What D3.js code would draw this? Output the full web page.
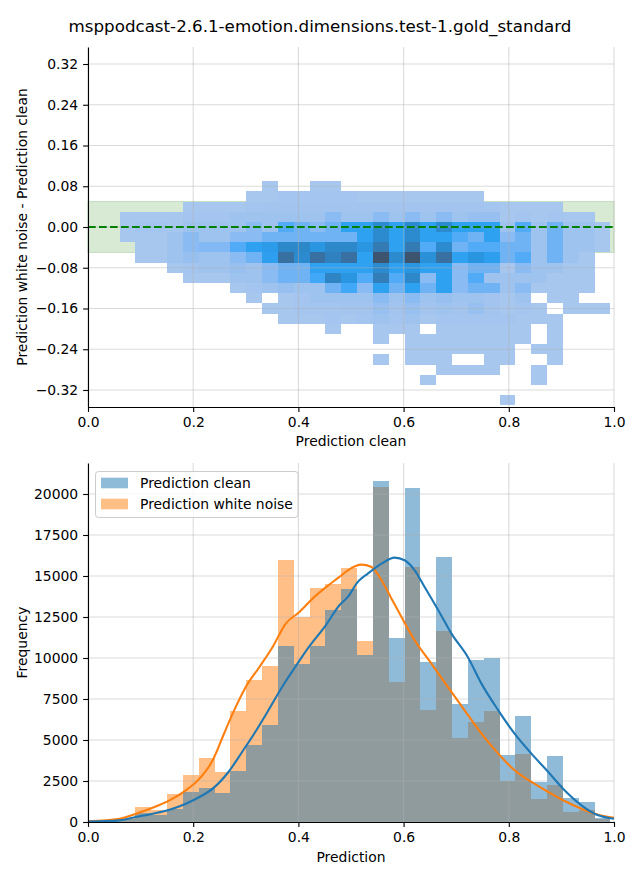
<!DOCTYPE html>
<html><head><meta charset="utf-8">
<script src="https://cdn.jsdelivr.net/npm/d3@7"></script>
<style>body{margin:0;background:#fff} text{font-family:"DejaVu Sans",sans-serif;fill:#000}</style>
</head><body><svg id="c" width="640" height="880"></svg>
<script>
// ---------------- DATA ----------------
const title = "msppodcast-2.6.1-emotion.dimensions.test-1.gold_standard";
const seriesNames = ["Prediction clean", "Prediction white noise"];
const seriesColors = ["#1f77b4", "#ff7f0e"];
const xTicks = [0, 0.2, 0.4, 0.6, 0.8, 1.0];
const topYTicks = [-0.32, -0.24, -0.16, -0.08, 0, 0.08, 0.16, 0.24, 0.32];
const bottomYTicks = [0, 2500, 5000, 7500, 10000, 12500, 15000, 17500, 20000];

// histogram bin edges (shared by both plots on x)
const binEdges = [0, 0.0301, 0.0602, 0.0903, 0.1204, 0.1505, 0.1806, 0.2107, 0.2408, 0.2709,
  0.301, 0.3311, 0.3612, 0.3913, 0.4214, 0.4515, 0.4816, 0.5117, 0.5418, 0.5719,
  0.602, 0.6321, 0.6622, 0.6923, 0.7224, 0.7525, 0.7826, 0.8127, 0.8428, 0.8729,
  0.903, 0.9331, 0.9632, 0.9933];
const cleanCounts = [60, 90, 180, 530, 430, 770, 1830, 2070, 1760, 3100, 4690, 5900, 10710, 9640, 10710, 12910,
  14190, 10170, 20780, 11200, 20350, 9740, 16140, 7180, 9860, 9980, 4070, 6445, 2420, 4005, 1440, 1200, 250];
const noiseCounts = [60, 110, 220, 930, 730, 1700, 2860, 3890, 3040, 6760, 8650, 9500, 15960, 12500, 14250, 14540,
  15510, 11020, 20410, 8520, 15530, 6830, 11630, 5100, 6080, 6750, 2480, 4130, 1380, 2240, 590, 750, 200];

// KDE curves (scaled to counts)
const kdeCleanX = [0.0, 0.06, 0.091, 0.123, 0.155, 0.186, 0.212, 0.237, 0.267, 0.293, 0.318, 0.343, 0.369, 0.394,
  0.42, 0.452, 0.478, 0.494, 0.513, 0.532, 0.558, 0.583, 0.602, 0.621, 0.64, 0.666, 0.691, 0.722, 0.748, 0.78,
  0.811, 0.843, 0.875, 0.906, 0.938, 0.97, 1.0];
const kdeCleanY = [20, 100, 305, 508, 752, 1118, 1525, 2033, 3050, 4270, 5489, 6810, 8234, 9453,
  10673, 11995, 13214, 13723, 14638, 15146, 15756, 16122, 15960, 15350, 14333, 12910, 11487, 10064, 8437, 6810,
  5387, 4168, 3050, 1931, 1017, 407, 200];
const kdeNoiseX = [0.0, 0.06, 0.091, 0.123, 0.155, 0.186, 0.212, 0.237, 0.256, 0.275, 0.3, 0.326, 0.351, 0.376,
  0.402, 0.427, 0.453, 0.478, 0.494, 0.52, 0.539, 0.558, 0.577, 0.596, 0.621, 0.653, 0.684, 0.716, 0.748, 0.78,
  0.811, 0.843, 0.875, 0.906, 0.938, 0.97, 1.0];
const kdeNoiseY = [40, 200, 508, 874, 1321, 1931, 2643, 3761, 5184, 6607, 8234, 9453, 10673, 12096,
  12808, 13621, 14333, 14943, 15350, 15695, 15550, 14740, 13620, 12500, 11080, 9657, 8234, 6810, 5387, 4168,
  3151, 2440, 1830, 1281, 813, 447, 260];

// 2D histogram: y bin edges and relative counts per cell (rows listed top -> bottom, 33 x-bins each)
const heatYEdges = [-0.35, -0.33, -0.31, -0.29, -0.27, -0.25, -0.23, -0.21, -0.19, -0.17, -0.15, -0.13,
  -0.11, -0.09, -0.07, -0.05, -0.03, -0.01, 0.01, 0.03, 0.05, 0.07, 0.09];
const heatCounts = [
  [0,0,0,0,0,0,0,0,0,0,0,2,0,0,2,2,0,0,0,0,0,0,0,0,0,0,0,0,0,0,0,0,0],
  [0,0,0,0,0,0,0,0,0,0,2,2,3,3,3,3,3,2,2,2,2,2,2,2,2,0,0,0,0,0,0,0,0],
  [0,0,0,0,0,0,2,2,2,2,3,4,4,4,4,4,4,4,4,4,4,4,4,4,4,3,2,2,2,2,0,0,0],
  [0,0,2,2,2,2,3,3,3,5,5,5,5,5,5,12,5,5,12,5,12,5,12,5,8,8,2,3,2,3,2,2,0],
  [0,0,2,3,3,2,5,5,5,5,12,5,27,20,12,20,36,36,55,36,55,36,55,36,36,36,5,27,5,20,5,5,2],
  [0,0,2,2,2,5,12,5,5,12,12,20,20,20,20,20,20,36,55,36,55,36,36,27,20,36,12,20,5,20,5,5,2],
  [0,0,0,2,2,5,12,15,15,27,36,40,57,57,45,57,57,45,68,36,68,27,55,20,27,27,20,20,5,20,5,5,2],
  [0,0,0,2,2,5,8,5,5,12,20,38,76,55,76,62,76,36,100,55,100,50,76,36,45,38,20,27,5,20,5,2,0],
  [0,0,0,0,0,2,3,5,5,8,5,12,20,20,36,36,36,36,55,36,45,36,36,12,20,20,2,12,5,5,2,2,0],
  [0,0,0,0,0,0,2,2,2,5,5,12,20,20,30,60,45,27,65,27,57,12,36,12,27,5,5,5,5,2,2,2,0],
  [0,0,0,0,0,0,0,0,0,2,3,5,8,5,5,20,30,12,36,20,36,20,36,12,20,20,5,12,2,2,2,2,0],
  [0,0,0,0,0,0,0,0,0,0,2,0,2,3,5,5,5,5,12,5,12,5,8,5,5,4,2,5,0,2,2,0,0],
  [0,0,0,0,0,0,0,0,0,0,0,2,2,3,3,3,4,4,8,4,8,4,5,4,8,4,2,3,2,0,2,2,2],
  [0,0,0,0,0,0,0,0,0,0,0,0,2,2,2,3,2,3,5,3,5,2,3,3,3,3,3,2,2,2,0,0,0],
  [0,0,0,0,0,0,0,0,0,0,0,0,0,0,0,2,0,0,2,2,2,0,2,2,2,2,2,2,0,2,0,0,0],
  [0,0,0,0,0,0,0,0,0,0,0,0,0,0,0,0,0,0,2,0,2,2,2,2,2,2,2,2,0,2,0,0,0],
  [0,0,0,0,0,0,0,0,0,0,0,0,0,0,0,0,0,0,0,0,2,2,2,2,2,2,2,0,2,2,0,0,0],
  [0,0,0,0,0,0,0,0,0,0,0,0,0,0,0,0,0,0,2,0,2,2,2,0,0,2,2,0,0,2,0,0,0],
  [0,0,0,0,0,0,0,0,0,0,0,0,0,0,0,0,0,0,0,0,0,0,2,2,2,2,0,0,2,0,0,0,0],
  [0,0,0,0,0,0,0,0,0,0,0,0,0,0,0,0,0,0,0,0,0,2,0,0,0,0,0,0,2,0,0,0,0],
  [0,0,0,0,0,0,0,0,0,0,0,0,0,0,0,0,0,0,0,0,0,0,0,0,0,0,0,0,0,0,0,0,0],
  [0,0,0,0,0,0,0,0,0,0,0,0,0,0,0,0,0,0,0,0,0,0,0,0,0,0,2,0,0,0,0,0,0]
];
const bandRange = [-0.05, 0.05];
const refLineY = 0;

// ---------------- COLORMAP (seaborn-like light->dark from seed colour, via HSLuv) ----------------
const M = [[3.240969941904521,-1.537383177570093,-0.498610760293],[-0.96924363628087,1.87596750150772,0.041555057407175],[0.055630079696993,-0.20397695888897,1.056971514242878]];
const MI = [[0.41239079926595,0.35758433938387,0.18048078840183],[0.21263900587151,0.71516867876775,0.072192315360733],[0.019330818715591,0.11919477979462,0.95053215224966]];
const refU=0.19783000664283, refV=0.46831999493879, kappa=903.2962962, eps=0.0088564516;
function getBounds(L){const res=[];const sub1=Math.pow(L+16,3)/1560896;const sub2=sub1>eps?sub1:L/kappa;
  for(let c=0;c<3;c++){const m1=M[c][0],m2=M[c][1],m3=M[c][2];
    for(let t=0;t<2;t++){const top1=(284517*m1-94839*m3)*sub2;
      const top2=(838422*m3+769860*m2+731718*m1)*L*sub2-769860*t*L;
      const bottom=(632260*m3-126452*m2)*sub2+126452*t; res.push([top1/bottom,top2/bottom]);}}
  return res;}
function maxChroma(L,H){const hr=H/360*Math.PI*2;let mn=Infinity;
  for(const [s,i] of getBounds(L)){const len=i/(Math.sin(hr)-s*Math.cos(hr)); if(len>=0&&len<mn)mn=len;} return mn;}
const toLin=c=>c<=0.04045?c/12.92:Math.pow((c+0.055)/1.055,2.4);
const fromLin=c=>c<=0.0031308?12.92*c:1.055*Math.pow(c,1/2.4)-0.055;
function rgbToHsluv(r,g,b){const R=toLin(r),G=toLin(g),B=toLin(b);
  const X=MI[0][0]*R+MI[0][1]*G+MI[0][2]*B, Y=MI[1][0]*R+MI[1][1]*G+MI[1][2]*B, Z=MI[2][0]*R+MI[2][1]*G+MI[2][2]*B;
  const L=Y<=eps?Y*kappa:116*Math.cbrt(Y)-16; const d=X+15*Y+3*Z;
  const U=13*L*(4*X/d-refU), V=13*L*(9*Y/d-refV); const C=Math.hypot(U,V);
  let H=Math.atan2(V,U)*180/Math.PI; if(H<0)H+=360; return [H, C/maxChroma(L,H)*100, L];}
function hsluvToRgb(H,S,L){const C=maxChroma(L,H)/100*S;const hr=H*Math.PI/180;
  const U=Math.cos(hr)*C,V=Math.sin(hr)*C; const vu=U/(13*L)+refU, vv=V/(13*L)+refV;
  const Y=L<=8?L/kappa:Math.pow((L+16)/116,3); const X=-(9*Y*vu)/((vu-4)*vv-vu*vv);
  const Z=(9*Y-15*vv*Y-vv*X)/(3*vv);
  return M.map(r=>Math.max(0,Math.min(1,fromLin(r[0]*X+r[1]*Y+r[2]*Z))));}
const seed = d3.rgb(seriesColors[0]);
const [seedH, seedS] = rgbToHsluv(seed.r/255, seed.g/255, seed.b/255);
function cmap(t){const j=255-Math.round(Math.max(0,Math.min(1,t))*255);
  const xx=-1+2*j/293, L=35+45*j/255, s=seedS*Math.cos(xx);
  const c=hsluvToRgb(seedH,s,L); return d3.rgb(c[0]*255,c[1]*255,c[2]*255).toString();}
const maxHeat = d3.max(heatCounts.flat());
const heatColor = d3.scaleSequential(cmap).domain([0, maxHeat]);

// ---------------- LAYOUT ----------------
const svg = d3.select("#c");
const FS = 13.9, TICK = 4.9, PAD = 4.9;
const minus = s => s.replace(/-/g, "\u2212");
const gridStroke = "#b0b0b0", gridOpacity = 0.45;

svg.append("text").attr("x", 320).attr("y", 32).attr("text-anchor", "middle")
  .style("font-size", "16.7px").text(title);

function styleAxis(g){
  g.selectAll("text").style("font-size", FS + "px").style("font-family", '"DejaVu Sans",sans-serif').attr("fill", "#000");
  g.selectAll("line,path").attr("stroke", "#000").attr("stroke-width", 1.1);
}

// ---- Top panel ----
const xT = d3.scaleLinear().domain([0, 1]).range([88, 614]);
const yT = d3.scaleLinear().domain([-0.3534, 0.3534]).range([407, 47]);
const topG = svg.append("g");
topG.append("rect").attr("x", xT(0)).attr("width", xT(1) - xT(0))
  .attr("y", yT(bandRange[1])).attr("height", yT(bandRange[0]) - yT(bandRange[1]))
  .attr("fill", "rgb(216,234,212)").attr("stroke", "rgb(196,224,192)").attr("stroke-width", 1);
const nRows = heatCounts.length;
const cells = [];
heatCounts.forEach((row, r) => row.forEach((v, k) => {
  if (v > 0) cells.push({k, y0: heatYEdges[nRows - 1 - r], y1: heatYEdges[nRows - r], v});
}));
topG.append("g").attr("shape-rendering", "crispEdges").selectAll("rect").data(cells).join("rect")
  .attr("x", d => xT(binEdges[d.k])).attr("width", d => xT(binEdges[d.k + 1]) - xT(binEdges[d.k]))
  .attr("y", d => yT(d.y1)).attr("height", d => yT(d.y0) - yT(d.y1))
  .attr("fill", d => heatColor(d.v));
topG.append("g").selectAll("line").data(xTicks).join("line")
  .attr("x1", d => xT(d)).attr("x2", d => xT(d)).attr("y1", 47).attr("y2", 407)
  .attr("stroke", gridStroke).attr("stroke-opacity", gridOpacity).attr("stroke-width", 1.1);
topG.append("g").selectAll("line").data(topYTicks).join("line")
  .attr("x1", 88).attr("x2", 614).attr("y1", d => yT(d)).attr("y2", d => yT(d))
  .attr("stroke", gridStroke).attr("stroke-opacity", gridOpacity).attr("stroke-width", 1.1);
topG.append("line").attr("x1", xT(0)).attr("x2", xT(1)).attr("y1", yT(refLineY)).attr("y2", yT(refLineY))
  .attr("stroke", "#008000").attr("stroke-width", 2.1).attr("stroke-dasharray", "7.7,3.3");
topG.append("g").attr("transform", "translate(88,0)")
  .call(d3.axisLeft(yT).tickValues(topYTicks).tickFormat(d => minus(d3.format(".2f")(d))).tickSize(TICK).tickPadding(PAD).tickSizeOuter(0))
  .call(styleAxis);
topG.append("g").attr("transform", "translate(0,407)")
  .call(d3.axisBottom(xT).tickValues(xTicks).tickFormat(d3.format(".1f")).tickSize(TICK).tickPadding(PAD).tickSizeOuter(0))
  .call(styleAxis);
topG.append("text").attr("x", 351).attr("y", 446).attr("text-anchor", "middle").style("font-size", FS + "px").text("Prediction clean");
topG.append("text").attr("transform", "translate(27,227) rotate(-90)").attr("text-anchor", "middle")
  .style("font-size", FS + "px").text("Prediction white noise - Prediction clean");

// ---- Bottom panel ----
const xB = d3.scaleLinear().domain([0, 1]).range([88, 614]);
const yB = d3.scaleLinear().domain([0, 21890]).range([822, 463]);
const botG = svg.append("g");
const seriesCounts = [cleanCounts, noiseCounts];
[1, 0].forEach(si => {
  botG.append("g").attr("shape-rendering", "crispEdges").selectAll("rect").data(seriesCounts[si]).join("rect")
    .attr("x", (d, i) => xB(binEdges[i])).attr("width", (d, i) => xB(binEdges[i + 1]) - xB(binEdges[i]))
    .attr("y", d => yB(d)).attr("height", d => yB(0) - yB(d))
    .attr("fill", seriesColors[si]).attr("fill-opacity", 0.5);
});
botG.append("g").selectAll("line").data(xTicks).join("line")
  .attr("x1", d => xB(d)).attr("x2", d => xB(d)).attr("y1", 463).attr("y2", 822)
  .attr("stroke", gridStroke).attr("stroke-opacity", gridOpacity).attr("stroke-width", 1.1);
botG.append("g").selectAll("line").data(bottomYTicks).join("line")
  .attr("x1", 88).attr("x2", 614).attr("y1", d => yB(d)).attr("y2", d => yB(d))
  .attr("stroke", gridStroke).attr("stroke-opacity", gridOpacity).attr("stroke-width", 1.1);
const kdeLine = d3.line().x(d => xB(d[0])).y(d => yB(d[1])).curve(d3.curveMonotoneX);
const kdes = [d3.zip(kdeCleanX, kdeCleanY), d3.zip(kdeNoiseX, kdeNoiseY)];
[1, 0].forEach(si => {
  botG.append("path").datum(kdes[si]).attr("d", kdeLine).attr("fill", "none")
    .attr("stroke", seriesColors[si]).attr("stroke-width", 2.1);
});
botG.append("g").attr("transform", "translate(88,0)")
  .call(d3.axisLeft(yB).tickValues(bottomYTicks).tickFormat(d3.format("d")).tickSize(TICK).tickPadding(PAD).tickSizeOuter(0))
  .call(styleAxis);
botG.append("g").attr("transform", "translate(0,822)")
  .call(d3.axisBottom(xB).tickValues(xTicks).tickFormat(d3.format(".1f")).tickSize(TICK).tickPadding(PAD).tickSizeOuter(0))
  .call(styleAxis);
botG.append("text").attr("x", 351).attr("y", 862).attr("text-anchor", "middle").style("font-size", FS + "px").text("Prediction");
botG.append("text").attr("transform", "translate(27,642.5) rotate(-90)").attr("text-anchor", "middle")
  .style("font-size", FS + "px").text("Frequency");

const lg = botG.append("g");
lg.append("rect").attr("x", 95.5).attr("y", 471.5).attr("width", 202.5).attr("height", 46).attr("rx", 3)
  .attr("fill", "#fff").attr("fill-opacity", 0.8).attr("stroke", "#cccccc").attr("stroke-width", 1);
seriesNames.forEach((name, i) => {
  const cy = 483 + i * 21;
  lg.append("rect").attr("x", 101).attr("y", cy - 5.3).attr("width", 27).attr("height", 10.6)
    .attr("fill", seriesColors[i]).attr("fill-opacity", 0.5);
  lg.append("text").attr("x", 140).attr("y", cy + 5).style("font-size", FS + "px").text(name);
});
</script></body></html>
